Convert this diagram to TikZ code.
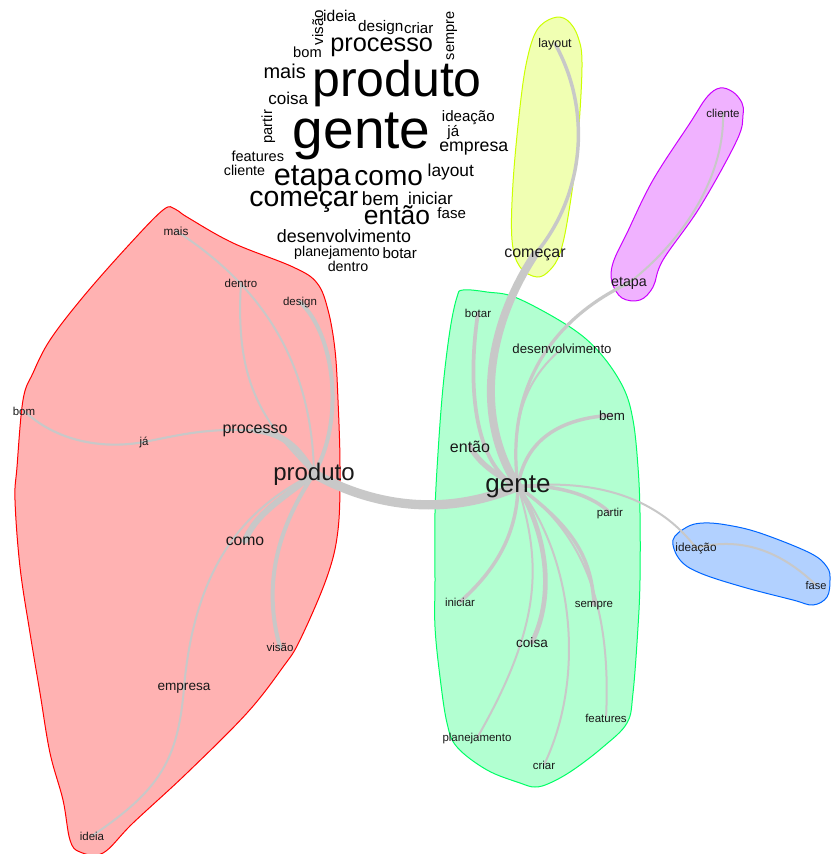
\documentclass[tikz,border=0pt]{standalone}
\usepackage{fontspec}
\setmainfont{Liberation Sans}
\pgfdeclarelayer{hulls}
\pgfdeclarelayer{links}
\pgfsetlayers{hulls,links,main}
\definecolor{linkgray}{RGB}{200,200,200}
\definecolor{hullR}{RGB}{255,0,0}
\definecolor{hullY}{RGB}{204,255,0}
\definecolor{hullG}{RGB}{0,255,102}
\definecolor{hullB}{RGB}{0,102,255}
\definecolor{hullM}{RGB}{204,0,255}
\definecolor{labelink}{RGB}{25,25,25}
\begin{document}
\begin{tikzpicture}[x=0.75pt,y=-0.75pt,
  lbl/.style={font=\fontsize{#1}{#1}\selectfont, inner sep=0pt, anchor=base, text=labelink},
  wc/.style={font=\fontsize{#1}{#1}\selectfont, inner sep=0pt, anchor=base, text=black},
  lnk/.style={draw=linkgray, line width=#1, line cap=round},
  hull/.style={draw=#1, fill=#1!30, line width=0.75pt}]
\useasboundingbox (0,0) rectangle (831,854);

% ---------- word cloud ----------
\node[wc=37.5] (w-produto) at (397,96.7) {produto};
\node[wc=41.3] (w-gente) at (361.7,148.3) {gente};
\node[wc=19] (w-processo) at (381.7,51.7) {processo};
\node[wc=15] (w-mais) at (284.7,78.3) {mais};
\node[wc=12.8] (w-coisa) at (288.3,104) {coisa};
\node[wc=11] (w-bom) at (307.5,57.3) {bom};
\node[wc=11.3, rotate=90] (w-visao) at (323,27.5) {visão};
\node[wc=11.7] (w-ideia) at (339.7,21.7) {ideia};
\node[wc=11.5] (w-design) at (380.8,31.7) {design};
\node[wc=11.3] (w-criar) at (418.7,33.3) {criar};
\node[wc=10.9, rotate=90] (w-sempre) at (454,35.8) {sempre};
\node[wc=11, rotate=90] (w-partir) at (272,126.7) {partir};
\node[wc=11.3] (w-ideacao) at (468.3,121.7) {ideação};
\node[wc=11.3] (w-ja) at (453.3,136.7) {já};
\node[wc=13.3] (w-empresa) at (473.8,151.7) {empresa};
\node[wc=10.9] (w-features) at (257.8,161) {features};
\node[wc=10.7] (w-cliente) at (244.5,175) {cliente};
\node[wc=23] (w-etapa) at (312.3,185) {etapa};
\node[wc=21] (w-como) at (388.7,185) {como};
\node[wc=13] (w-layout) at (450.8,176.7) {layout};
\node[wc=21.3] (w-comecar) at (303.8,206.7) {começar};
\node[wc=14.3] (w-bem) at (380.5,205) {bem};
\node[wc=12.8] (w-iniciar) at (430.5,204) {iniciar};
\node[wc=19.8] (w-entao) at (397,224) {então};
\node[wc=11.3] (w-fase) at (451.7,218.3) {fase};
\node[wc=13.4] (w-desenv) at (344,242.7) {desenvolvimento};
\node[wc=10.7] (w-planej) at (337,256) {planejamento};
\node[wc=11.3] (w-botar) at (399.7,258.3) {botar};
\node[wc=10.7] (w-dentro) at (348,271.7) {dentro};

% ---------- graph labels ----------
\node[lbl=8.8] (mais) at (176,235) {mais};
\node[lbl=8.6] (dentro) at (241,287) {dentro};
\node[lbl=8.6] (design) at (300,305) {design};
\node[lbl=8.6] (bom) at (24,415) {bom};
\node[lbl=8.6] (ja) at (144,445) {já};
\node[lbl=12] (processo) at (255,433) {processo};
\node[lbl=18] (produto) at (314,480) {produto};
\node[lbl=11.8] (como) at (245,545) {como};
\node[lbl=8.6] (visao) at (280,651) {visão};
\node[lbl=10.2] (empresa) at (184,690) {empresa};
\node[lbl=8.6] (ideia) at (92,840) {ideia};

\node[lbl=8.6] (botar) at (478,317) {botar};
\node[lbl=9.9] (desenv) at (562,353) {desenvolvimento};
\node[lbl=10] (bem) at (612,420) {bem};
\node[lbl=12] (entao) at (470,452) {então};
\node[lbl=19.5] (gente) at (518,492) {gente};
\node[lbl=8.6] (partir) at (610,516) {partir};
\node[lbl=8.6] (iniciar) at (460,606) {iniciar};
\node[lbl=8.6] (sempre) at (594,607) {sempre};
\node[lbl=10.2] (coisa) at (532,647) {coisa};
\node[lbl=8.6] (features) at (606,722) {features};
\node[lbl=8.6] (planej) at (477,741) {planejamento};
\node[lbl=8.6] (criar) at (544,769) {criar};

\node[lbl=9.4] (layout) at (555,47) {layout};
\node[lbl=12] (comecar) at (535,257) {começar};
\node[lbl=8.6] (cliente) at (723,117) {cliente};
\node[lbl=10.7] (etapa) at (629,286) {etapa};
\node[lbl=8.8] (ideacao) at (696,551) {ideação};
\node[lbl=8.3] (fase) at (816,589) {fase};

% ---------- community hulls ----------
\begin{pgfonlayer}{hulls}
\filldraw[hull=hullR] plot[smooth cycle, tension=0.6] coordinates {
 (163,210) (175,209) (187,217) (233,243) (293,267) (317,283) (328,310)
 (335,350) (338,400) (340,467) (338,530) (327,577) (300,640) (283,667)
 (247,713) (187,773) (133,823) (103,853) (80,852) (70,840) (63,800)
 (50,753) (40,693) (30,633) (20,567) (15,500) (17,467) (23,400) (33,373)
 (50,340) (83,297) (127,247)};
\filldraw[hull=hullG] plot[smooth cycle, tension=0.6] coordinates {
 (463,290) (487,292) (517,298) (570,327) (600,353) (623,387) (633,420)
 (638,467) (640,513) (640,580) (638,627) (633,693) (627,723) (603,747)
 (573,770) (550,783) (535,787) (520,783) (487,770) (457,747) (447,723)
 (440,677) (435,627) (435,580) (435,513) (438,453) (443,387) (450,330)
 (457,297)};
\filldraw[hull=hullY] plot[smooth cycle, tension=0.6] coordinates {
 (553,18) (567,20) (578,37) (582,67) (577,150) (568,217) (560,253)
 (550,270) (537,277) (520,267) (512,240) (513,183) (520,107) (527,60)
 (537,30)};
\filldraw[hull=hullM] plot[smooth cycle, tension=0.6] coordinates {
 (720,88) (733,92) (742,103) (743,115) (737,140) (700,207) (663,260)
 (653,287) (640,300) (622,298) (612,282) (613,263) (627,233) (653,180)
 (690,123) (707,97)};
\filldraw[hull=hullB] plot[smooth cycle, tension=0.6] coordinates {
 (673,540) (687,527) (703,523) (727,525) (760,533) (810,553) (827,567)
 (830,580) (827,597) (813,605) (793,600) (743,587) (700,573) (680,560)};
\end{pgfonlayer}

% ---------- co-occurrence links ----------
\begin{pgfonlayer}{links}
% produto community
\draw[lnk=1.5pt] (mais.center) .. controls (260,285) and (312,360) .. (produto.center);
\draw[lnk=1.5pt] (dentro.center) .. controls (235,380) and (260,420) .. (produto.center);
\draw[lnk=3pt] (design.center) .. controls (335,335) and (345,420) .. (produto.center);
\draw[lnk=1.6pt] (bom.center) .. controls (55,440) and (100,450) .. (ja.center);
\draw[lnk=1.6pt] (ja.center) .. controls (180,435) and (205,428) .. (processo.center);
\draw[lnk=4.5pt] (processo.center) .. controls (285,433) and (300,450) .. (produto.center);
\draw[lnk=4.5pt] (produto.center) .. controls (280,500) and (255,515) .. (como.center);
\draw[lnk=3pt] (produto.center) .. controls (290,510) and (258,570) .. (visao.center);
\draw[lnk=1.5pt] (produto.center) .. controls (250,505) and (195,560) .. (empresa.center);
\draw[lnk=1.5pt] (empresa.center) .. controls (178,760) and (160,790) .. (ideia.center);
% bridge between the two main communities
\draw[lnk=7pt] (produto.center) .. controls (380,510) and (450,515) .. (gente.center);
% gente community
\draw[lnk=6pt] (gente.center) .. controls (475,420) and (485,330) .. (comecar.center);
\draw[lnk=2.6pt] (comecar.center) .. controls (585,195) and (592,110) .. (layout.center);
\draw[lnk=2.4pt] (gente.center) .. controls (505,390) and (550,320) .. (etapa.center);
\draw[lnk=1.5pt] (gente.center) .. controls (510,420) and (525,380) .. (desenv.center);
\draw[lnk=1.5pt] (etapa.center) .. controls (690,235) and (725,170) .. (cliente.center);
\draw[lnk=2.8pt] (gente.center) .. controls (480,470) and (465,400) .. (botar.center);
\draw[lnk=4pt] (entao.center) .. controls (478,462) and (495,475) .. (gente.center);
\draw[lnk=2.6pt] (gente.center) .. controls (525,440) and (560,418) .. (bem.center);
\draw[lnk=2.6pt] (gente.center) .. controls (560,484) and (595,497) .. (partir.center);
\draw[lnk=1.5pt] (gente.center) .. controls (600,478) and (660,500) .. (ideacao.center);
\draw[lnk=1.5pt] (ideacao.center) .. controls (745,535) and (785,555) .. (fase.center);
\draw[lnk=2.6pt] (gente.center) .. controls (517,540) and (490,575) .. (iniciar.center);
\draw[lnk=3.5pt] (gente.center) .. controls (550,540) and (553,600) .. (coisa.center);
\draw[lnk=1.5pt] (gente.center) .. controls (540,560) and (545,620) .. (planej.center);
\draw[lnk=1.5pt] (gente.center) .. controls (575,560) and (585,680) .. (criar.center);
\draw[lnk=2.6pt] (gente.center) .. controls (570,525) and (592,555) .. (sempre.center);
\draw[lnk=1.5pt] (gente.center) .. controls (580,530) and (612,600) .. (features.center);
\end{pgfonlayer}
\end{tikzpicture}
\end{document}
